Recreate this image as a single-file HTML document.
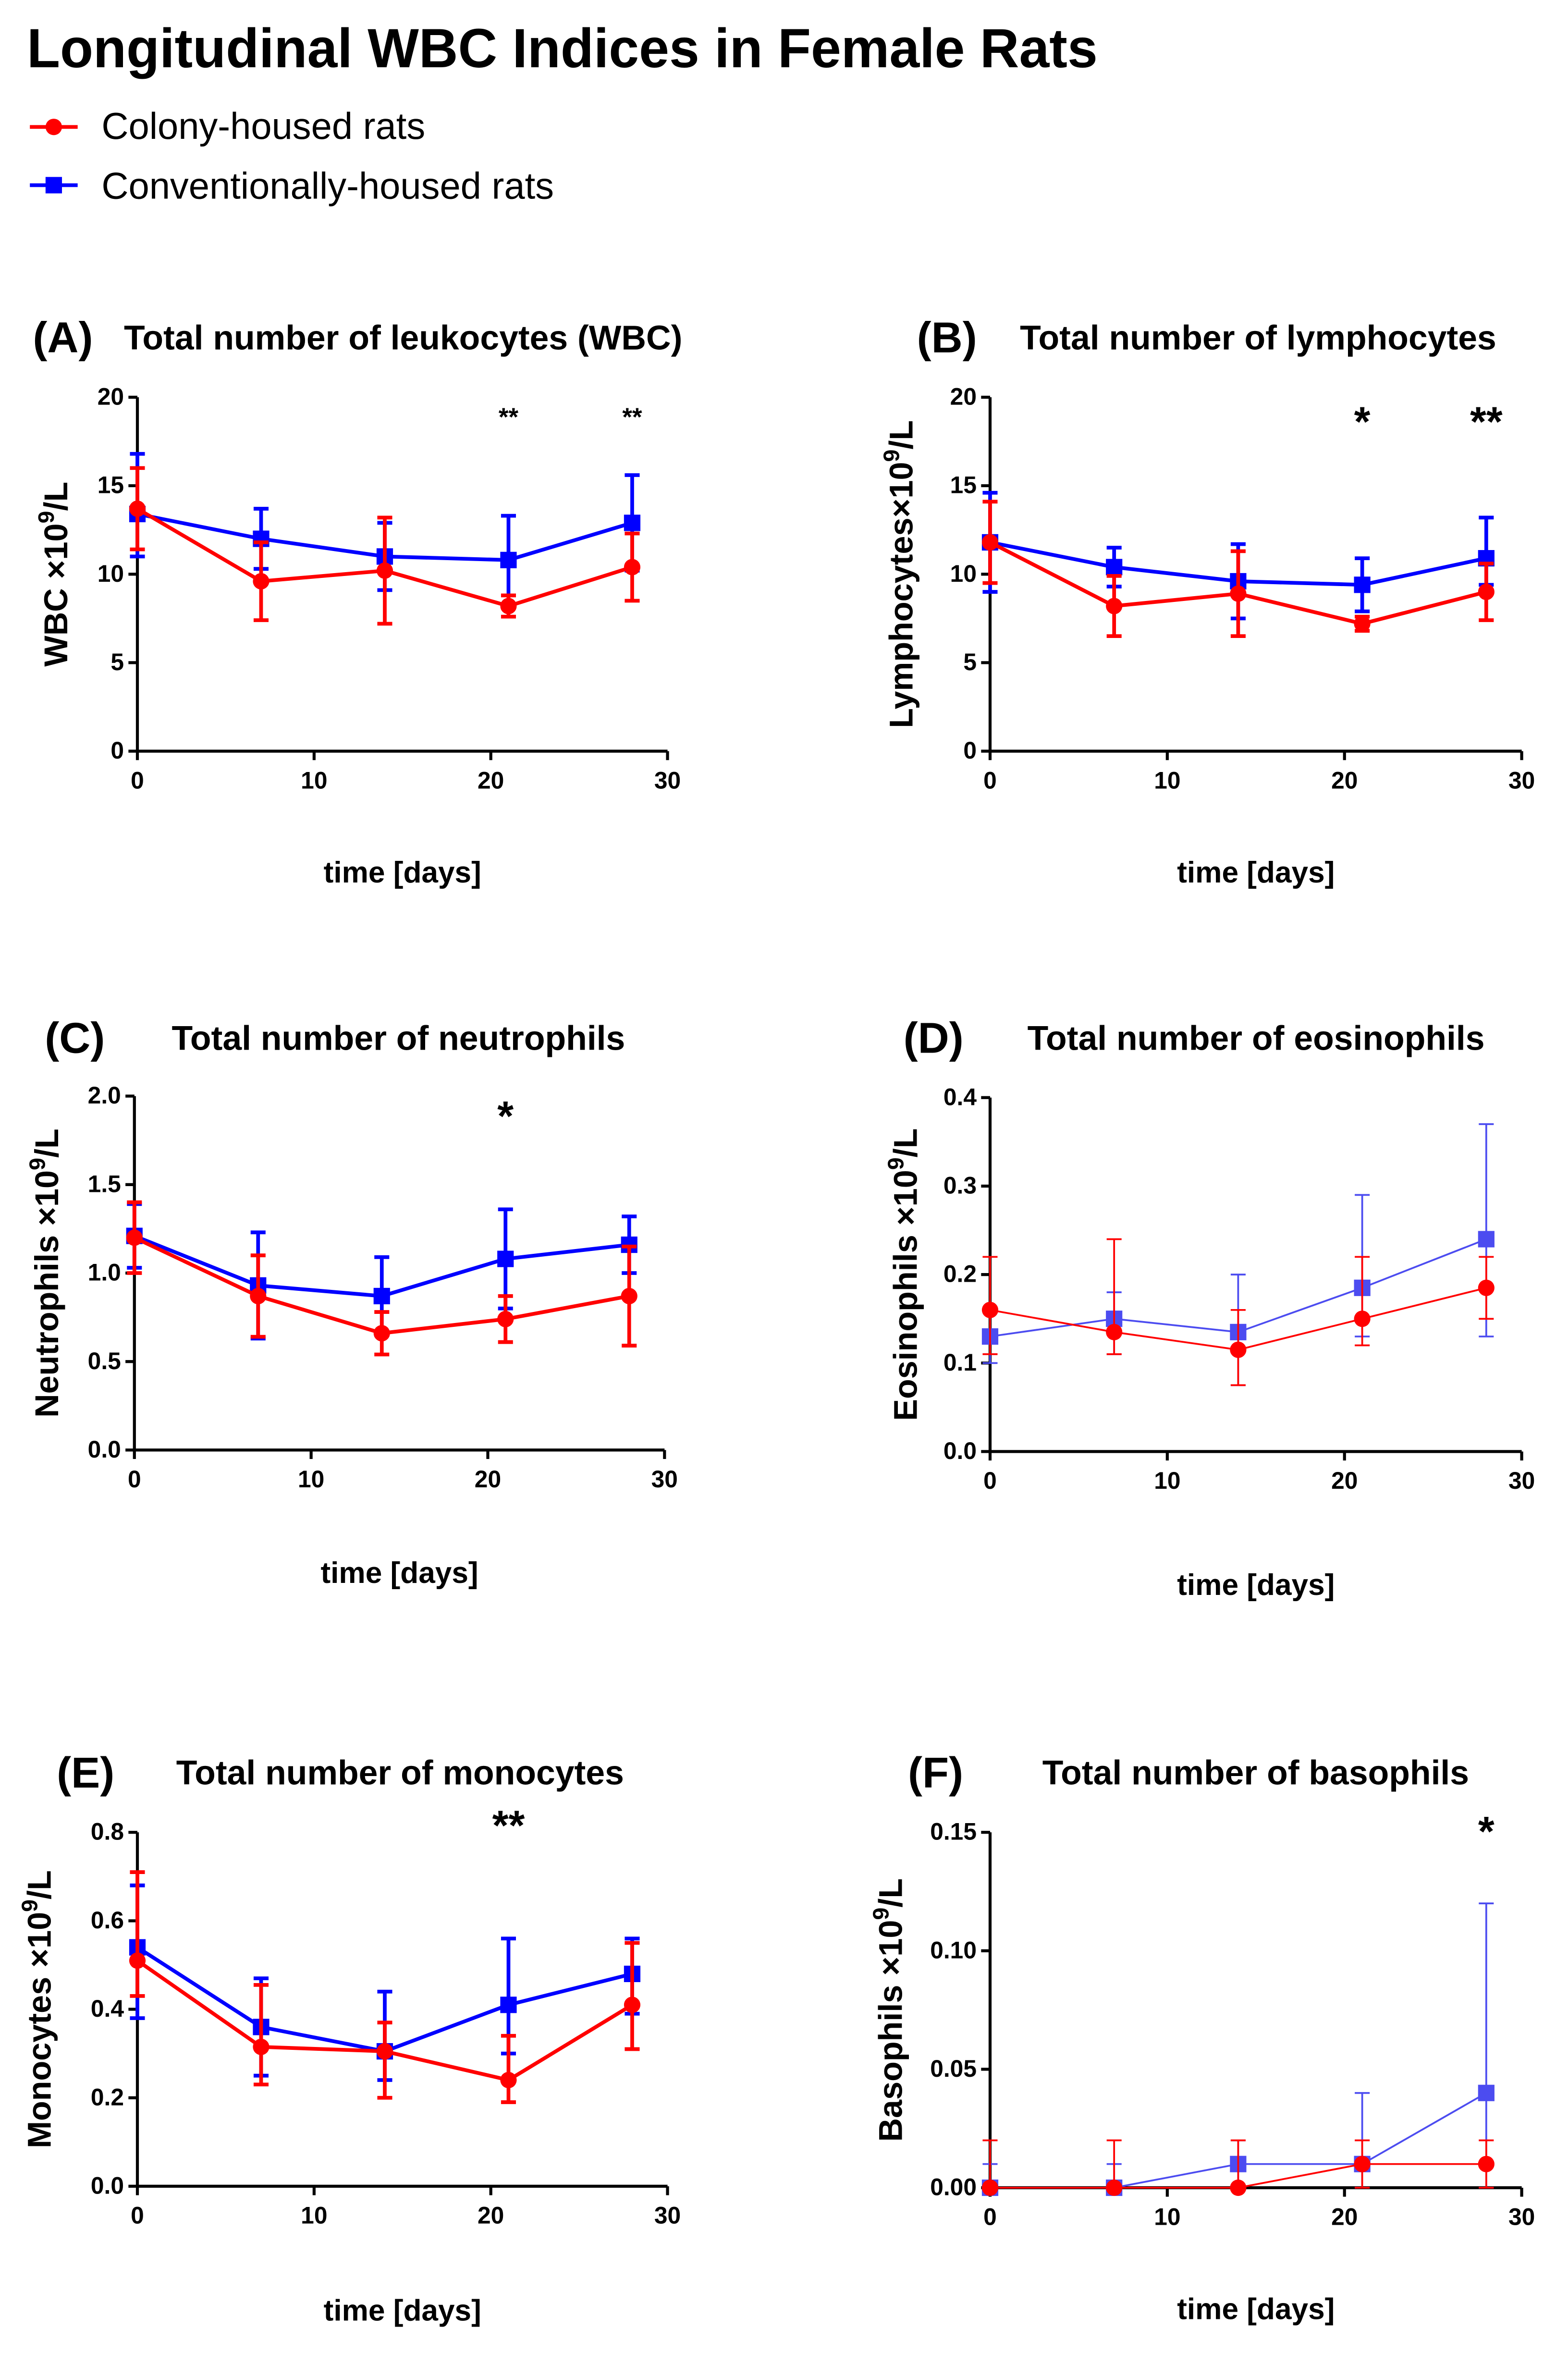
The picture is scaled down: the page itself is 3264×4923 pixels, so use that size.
<!DOCTYPE html>
<html><head><meta charset="utf-8"><style>
html,body{margin:0;padding:0;background:#fff;}
svg{display:block;font-family:"Liberation Sans",Arial,sans-serif;}
</style></head><body>
<svg id="c" width="3264" height="4923" viewBox="0 0 1050 1583.7" xmlns="http://www.w3.org/2000/svg">
<text x="18" y="45" font-size="37" font-weight="bold" textLength="717" lengthAdjust="spacingAndGlyphs">Longitudinal WBC Indices in Female Rats</text>
<g>
<line x1="20" y1="85" x2="52" y2="85" stroke="#f00" stroke-width="2.5"/><circle cx="36" cy="85" r="5.5" fill="#f00"/>
<text x="68" y="93" font-size="25">Colony-housed rats</text>
<line x1="20" y1="124" x2="52" y2="124" stroke="#00f" stroke-width="2.5"/><rect x="30.5" y="118.5" width="11" height="11" fill="#00f"/>
<text x="68" y="133" font-size="25">Conventionally-housed rats</text>
</g>
<g id="panels"></g>
</svg>
<script>
const days=[0,7,14,21,28];
const aRed=[13.7,9.6,10.2,8.2,10.4], aRedErr=[2.3,2.2,3.0,0.6,1.9], aRedLo=[2.3,2.2,3.0,0.6,1.9];
const aBlue=[13.4,12.0,11.0,10.8,12.9], aBlueErr=[3.4,1.7,1.9,2.5,2.7], aBlueLo=[2.4,1.7,1.9,2.5,2.7];
const bRed=[11.8,8.2,8.9,7.2,9.0], bRedErr=[2.3,1.7,2.4,0.4,1.6], bRedLo=[2.3,1.7,2.4,0.4,1.6];
const bBlue=[11.8,10.4,9.6,9.4,10.9], bBlueErr=[2.8,1.1,2.1,1.5,2.3], bBlueLo=[2.8,1.1,2.1,1.5,1.5];
const cRed=[1.2,0.87,0.66,0.74,0.87], cRedErr=[0.2,0.23,0.12,0.13,0.28], cRedLo=[0.2,0.23,0.12,0.13,0.28];
const cBlue=[1.21,0.93,0.87,1.08,1.16], cBlueErr=[0.18,0.3,0.22,0.28,0.16], cBlueLo=[0.18,0.3,0.22,0.28,0.16];
const dRed=[0.16,0.135,0.115,0.15,0.185], dRedErr=[0.06,0.105,0.045,0.07,0.035], dRedLo=[0.05,0.025,0.04,0.03,0.035];
const dBlue=[0.13,0.15,0.135,0.185,0.24], dBlueErr=[0.03,0.03,0.065,0.105,0.13], dBlueLo=[0.03,0.04,0.06,0.055,0.11];
const eRed=[0.51,0.315,0.305,0.24,0.41], eRedErr=[0.2,0.14,0.065,0.1,0.14], eRedLo=[0.08,0.085,0.105,0.05,0.1];
const eBlue=[0.54,0.36,0.305,0.41,0.48], eBlueErr=[0.14,0.11,0.135,0.15,0.08], eBlueLo=[0.16,0.11,0.065,0.11,0.09];
const fRed=[0,0,0,0.01,0.01], fRedErr=[0.02,0.02,0.02,0.01,0.01], fRedLo=[0,0,0,0.01,0.01];
const fBlue=[0,0,0.01,0.01,0.04], fBlueErr=[0.01,0.01,0.01,0.03,0.08], fBlueLo=[0,0,0.01,0.01,0.04];
const xTicks=[0,10,20,30];
const ticksAB=[0,5,10,15,20], ticksC=[0,0.5,1.0,1.5,2.0], ticksD=[0,0.1,0.2,0.3,0.4], ticksE=[0,0.2,0.4,0.6,0.8], ticksF=[0,0.05,0.10,0.15];
const NS="http://www.w3.org/2000/svg";
const root=document.getElementById('panels');
function el(tag,attrs,parent,txt){const e=document.createElementNS(NS,tag);for(const k in attrs)e.setAttribute(k,attrs[k]);if(txt!==undefined)e.textContent=txt;parent.appendChild(e);return e;}
const panels=[
{id:'a',lab:'(A)',labX:22,title:'Total number of leukocytes (WBC)',titleX:83,titleY:234,x0:92,x1:447,y0:503,y1:266,ymax:20,ticks:ticksAB,dec:0,red:aRed,redE:aRedErr,redL:aRedLo,blue:aBlue,blueE:aBlueErr,blueL:aBlueLo,ytitle:'WBC ×10',yX:45,xtY:591,thin:false,stars:[[21,'**',285,17],[28,'**',285,17]]},
{id:'b',lab:'(B)',labX:614,title:'Total number of lymphocytes',titleX:683,titleY:234,x0:663,x1:1019,y0:503,y1:266,ymax:20,ticks:ticksAB,dec:0,red:bRed,redE:bRedErr,redL:bRedLo,blue:bBlue,blueE:bBlueErr,blueL:bBlueLo,ytitle:'Lymphocytes×10',yX:611,xtY:591,thin:false,stars:[[21,'*',292,28],[28,'**',292,28]]},
{id:'c',lab:'(C)',labX:30,title:'Total number of neutrophils',titleX:115,titleY:703,x0:90,x1:445,y0:971,y1:734,ymax:2.0,ticks:ticksC,dec:1,red:cRed,redE:cRedErr,redL:cRedLo,blue:cBlue,blueE:cBlueErr,blueL:cBlueLo,ytitle:'Neutrophils ×10',yX:39,xtY:1060,thin:false,stars:[[21,'*',757,28]]},
{id:'d',lab:'(D)',labX:605,title:'Total number of eosinophils',titleX:688,titleY:703,x0:663,x1:1019,y0:972,y1:735,ymax:0.4,ticks:ticksD,dec:1,red:dRed,redE:dRedErr,redL:dRedLo,blue:dBlue,blueE:dBlueErr,blueL:dBlueLo,ytitle:'Eosinophils ×10',yX:614,xtY:1068,thin:true,stars:[]},
{id:'e',lab:'(E)',labX:38,title:'Total number of monocytes',titleX:118,titleY:1195,x0:92,x1:447,y0:1464,y1:1227,ymax:0.8,ticks:ticksE,dec:1,red:eRed,redE:eRedErr,redL:eRedLo,blue:eBlue,blueE:eBlueErr,blueL:eBlueLo,ytitle:'Monocytes ×10',yX:34,xtY:1554,thin:false,stars:[[21,'**',1232,28]]},
{id:'f',lab:'(F)',labX:608,title:'Total number of basophils',titleX:698,titleY:1195,x0:663,x1:1019,y0:1465,y1:1227,ymax:0.15,ticks:ticksF,dec:2,red:fRed,redE:fRedErr,redL:fRedLo,blue:fBlue,blueE:fBlueErr,blueL:fBlueLo,ytitle:'Basophils ×10',yX:604,xtY:1553,thin:true,stars:[[28,'*',1236,28]]}
];
panels.forEach(p=>{
 const g=el('g',{},root);
 
 
 const X=v=>p.x0+(p.x1-p.x0)*v/30, Y=v=>p.y0-(p.y0-p.y1)*v/p.ymax;
 const pl=el('text',{x:p.labX,y:p.titleY+2,'font-size':29,'font-weight':'bold'},g,p.lab);
 
 
 const pt=el('text',{x:p.titleX,y:p.titleY,'font-size':23,'font-weight':'bold'},g,p.title);
 
 
 el('line',{x1:p.x0,y1:p.y1,x2:p.x0,y2:p.y0,stroke:'#000','stroke-width':2},g);
 el('line',{x1:p.x0,y1:p.y0,x2:p.x1,y2:p.y0,stroke:'#000','stroke-width':2},g);
 p.ticks.forEach(t=>{
  el('line',{x1:p.x0-6,y1:Y(t),x2:p.x0,y2:Y(t),stroke:'#000','stroke-width':2},g);
  const tl=el('text',{x:p.x0-9,y:Y(t)+5,'font-size':16,'font-weight':'bold','text-anchor':'end'},g,t.toFixed(p.dec));
  
  
 });
 xTicks.forEach(t=>{
  el('line',{x1:X(t),y1:p.y0,x2:X(t),y2:p.y0+6,stroke:'#000','stroke-width':2},g);
  const tl=el('text',{x:X(t),y:p.y0+25,'font-size':16,'font-weight':'bold','text-anchor':'middle'},g,String(t));
  
  
 });
 const xt=el('text',{x:(p.x0+p.x1)/2,y:p.xtY,'font-size':20,'font-weight':'bold','text-anchor':'middle'},g,'time [days]');
 
 
 const cy=(p.y0+p.y1)/2;
 const yt=el('text',{x:p.yX,y:cy,'font-size':22,'font-weight':'bold','text-anchor':'middle',transform:`rotate(-90 ${p.yX} ${cy})`},g);
 
 
 el('tspan',{},yt,p.ytitle);
 el('tspan',{dy:-9,'font-size':15},yt,'9');
 el('tspan',{dy:9},yt,'/L');
 const sw=p.thin?1.2:2.5;
 [['blue',p.blue,p.blueE,p.blueL,p.thin?'#4c4cf0':'#00f'],['red',p.red,p.redE,p.redL,'#f00']].forEach(([nm,vals,errs,los,col])=>{
  const s=el('g',{},g);
  
  
  vals.forEach((v,i)=>{
   const x=X(days[i]);
   const lo=v-los[i], hi=v+errs[i];
   el('line',{x1:x,y1:Y(lo),x2:x,y2:Y(hi),stroke:col,'stroke-width':sw},s);
   el('line',{x1:x-5,y1:Y(hi),x2:x+5,y2:Y(hi),stroke:col,'stroke-width':sw},s);
   if(los[i]>0) el('line',{x1:x-5,y1:Y(lo),x2:x+5,y2:Y(lo),stroke:col,'stroke-width':sw},s);
  });
  el('polyline',{points:vals.map((v,i)=>X(days[i])+','+Y(v)).join(' '),fill:'none',stroke:col,'stroke-width':sw},s);
  vals.forEach((v,i)=>{
   let m;
   if(nm==='red') m=el('circle',{cx:X(days[i]),cy:Y(v),r:5.5,fill:col},s);
   else m=el('rect',{x:X(days[i])-5.5,y:Y(v)-5.5,width:11,height:11,fill:col},s);
   
   
  });
 });
 p.stars.forEach(([d,txt,y,fs])=>{
  const st=el('text',{x:X(d),y:y,'font-size':fs,'font-weight':'bold','text-anchor':'middle'},g,txt);
  
  
 });
});
</script>
</body></html>
